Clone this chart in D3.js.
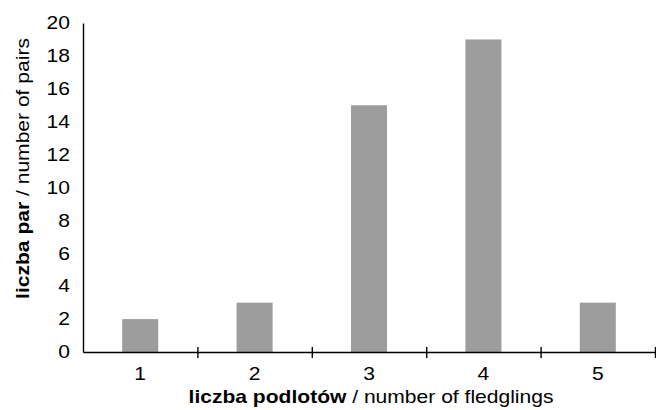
<!DOCTYPE html>
<html>
<head>
<meta charset="utf-8">
<script src="https://cdn.jsdelivr.net/npm/d3@7"></script>
<style>
  html, body { margin: 0; padding: 0; background: #fff; }
  svg { display: block; font-family: 'Liberation Sans', Arial, sans-serif; }
</style>
</head>
<body>
<script>
const categories = ['1', '2', '3', '4', '5'];
const pairs = [2, 3, 15, 19, 3];
const yTicks = [0, 2, 4, 6, 8, 10, 12, 14, 16, 18, 20];
const boundaries = [1, 2, 3, 4, 5];

const width = 656;
const height = 410;
const fontSize = 18;
// glyphs in the source are wider than plain Arial
const stretch = 1.17;
const plot = { left: 83, right: 655, top: 23, bottom: 352 };

const svg = d3
  .select('body')
  .append('svg')
  .attr('width', width)
  .attr('height', height);

const xScale = d3
  .scaleBand()
  .domain(categories)
  .range([plot.left, plot.right]);

const xEdge = d3
  .scaleLinear()
  .domain([0, categories.length])
  .range([plot.left, plot.right]);

const yScale = d3
  .scaleLinear()
  .domain([0, 20])
  .range([plot.bottom, plot.top]);

// bars
const barWidth = xScale.bandwidth() * 0.315;
svg
  .append('g')
  .selectAll('rect')
  .data(categories.map((c, i) => ({ c, v: pairs[i] })))
  .enter()
  .append('rect')
  .attr('x', (d) => xScale(d.c) + (xScale.bandwidth() - barWidth) / 2)
  .attr('y', (d) => yScale(d.v))
  .attr('width', barWidth)
  .attr('height', (d) => yScale(0) - yScale(d.v))
  .attr('fill', '#9d9d9d');

// y axis
const yAxis = svg
  .append('g')
  .attr('transform', `translate(${plot.left},0)`)
  .call(d3.axisLeft(yScale).tickValues(yTicks).tickSize(0).tickSizeOuter(0));
yAxis.select('.domain').attr('stroke', '#000').attr('stroke-width', 1.4);
yAxis
  .selectAll('text')
  .attr('x', 0)
  .attr('transform', `translate(-13,0) scale(${stretch},1)`)
  .attr('fill', '#000')
  .style('font-size', fontSize + 'px');

// x axis labels + line
const xAxis = svg
  .append('g')
  .attr('transform', `translate(0,${plot.bottom})`)
  .call(d3.axisBottom(xScale).tickSize(0).tickSizeOuter(0).tickPadding(15));
xAxis.select('.domain').attr('stroke', '#000').attr('stroke-width', 1.4);
xAxis
  .selectAll('text')
  .attr('transform', `scale(${stretch},1)`)
  .attr('fill', '#000')
  .style('font-size', fontSize + 'px');

// boundary ticks crossing the axis
const edgeTicks = svg
  .append('g')
  .attr('transform', `translate(0,${plot.bottom})`)
  .call(d3.axisBottom(xEdge).tickValues(boundaries).tickFormat(''));
edgeTicks.select('.domain').remove();
edgeTicks
  .selectAll('line')
  .attr('y1', -5)
  .attr('y2', 6)
  .attr('stroke', '#000')
  .attr('stroke-width', 1.4);

// axis titles
const xTitle = svg
  .append('text')
  .attr('transform', `translate(371,403) scale(${stretch},1)`)
  .attr('text-anchor', 'middle')
  .style('font-size', fontSize + 'px')
  .attr('fill', '#000');
xTitle.append('tspan').attr('font-weight', 'bold').text('liczba podlotów');
xTitle.append('tspan').text(' / number of fledglings');

const yTitle = svg
  .append('text')
  .attr('transform', `translate(29,168.5) rotate(-90) scale(${stretch},1)`)
  .attr('text-anchor', 'middle')
  .style('font-size', fontSize + 'px')
  .attr('fill', '#000');
yTitle.append('tspan').attr('font-weight', 'bold').text('liczba par');
yTitle.append('tspan').text(' / number of pairs');
</script>
</body>
</html>
